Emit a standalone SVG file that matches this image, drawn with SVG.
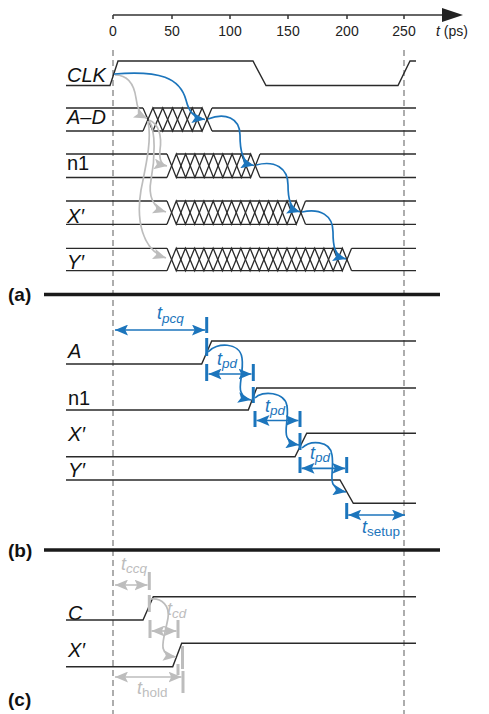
<svg xmlns="http://www.w3.org/2000/svg" width="489" height="714" viewBox="0 0 489 714">
<defs>
<style>
.sig{fill:none;stroke:#2a2a2a;stroke-width:1.4}
.bus{fill:none;stroke:#2a2a2a;stroke-width:1.3}
.lbl{font-family:"Liberation Sans",Arial,sans-serif;font-size:20px;font-style:italic;fill:#111}
.up{font-style:normal}
.tick{font-family:"Liberation Sans",Arial,sans-serif;font-size:14px;fill:#222;text-anchor:middle}
.part{font-family:"Liberation Sans",Arial,sans-serif;font-size:19px;font-weight:bold;fill:#111}
.sep{stroke:#1a1a1a;stroke-width:3.5}
.dash{stroke:#777;stroke-width:1.2;stroke-dasharray:6 4}
.blue{fill:none;stroke:#1c75bc;stroke-width:1.7}
.gray{fill:none;stroke:#bdbdbd;stroke-width:1.7}
.bbar{stroke:#1c75bc;stroke-width:3}
.gbar{stroke:#bdbdbd;stroke-width:3}
.bt{font-family:"Liberation Sans",Arial,sans-serif;font-size:18px;font-style:italic;fill:#1c75bc}
.gt{font-family:"Liberation Sans",Arial,sans-serif;font-size:18px;font-style:italic;fill:#bdbdbd}
.sub{font-size:13.5px}
</style>
<marker id="ab" viewBox="0 0 12 10" refX="12" refY="5" markerWidth="13" markerHeight="11" markerUnits="userSpaceOnUse" orient="auto-start-reverse"><path d="M0,0 L12,5 L0,10 L2.5,5 z" fill="#1c75bc"/></marker>
<marker id="ag" viewBox="0 0 12 10" refX="12" refY="5" markerWidth="13" markerHeight="11" markerUnits="userSpaceOnUse" orient="auto-start-reverse"><path d="M0,0 L12,5 L0,10 L2.5,5 z" fill="#bdbdbd"/></marker>
</defs>
<rect width="489" height="714" fill="#fff"/>

<g id="axis">
<line x1="113" y1="15" x2="446" y2="15" stroke="#333" stroke-width="1.5"/>
<polygon points="442,8 463,15 442,22" fill="#222"/>
<path d="M113,15V19 M172,15V19 M230,15V19 M288,15V19 M347,15V19 M404,15V19" stroke="#333" stroke-width="1.5"/>
<text class="tick" x="113" y="36">0</text>
<text class="tick" x="172" y="36">50</text>
<text class="tick" x="230" y="36">100</text>
<text class="tick" x="288" y="36">150</text>
<text class="tick" x="347" y="36">200</text>
<text class="tick" x="404" y="36">250</text>
<text class="tick" x="452" y="36" text-anchor="start"><tspan font-style="italic">t</tspan> (ps)</text>
</g>

<g id="guides">
<line class="dash" x1="113" y1="50" x2="113" y2="714"/>
<line class="dash" x1="404" y1="50" x2="404" y2="714"/>
</g>

<g id="sig-a-clk">
<text class="lbl" x="67" y="81.5">CLK</text>
<path class="sig" d="M66,85.5 H110 L118,61 H253 L266,85.5 H398 L410,61 H416"/>
</g>

<g id="sig-a-ad">
<text class="lbl" x="67" y="124">A–D</text>
<path class="bus" d="M66,108 H143 M152.86,108 H202.14 M212,108 H416 M66,131 H143 M152.86,131 H202.14 M212,131 H416"/>
<polyline class="bus" points="143,108 152.86,131 162.71,108 172.57,131 182.43,108 192.29,131 202.14,108 212,131"/>
<polyline class="bus" points="143,131 152.86,108 162.71,131 172.57,108 182.43,131 192.29,108 202.14,131 212,108"/>
</g>

<g id="sig-a-n1">
<text class="lbl up" x="67" y="170">n1</text>
<path class="bus" d="M66,154 H167 M176.3,154 H250.7 M260,154 H416 M66,177.5 H167 M176.3,177.5 H250.7 M260,177.5 H416"/>
<polyline class="bus" points="167,154 176.3,177.5 185.6,154 194.9,177.5 204.2,154 213.5,177.5 222.8,154 232.1,177.5 241.4,154 250.7,177.5 260,154"/>
<polyline class="bus" points="167,177.5 176.3,154 185.6,177.5 194.9,154 204.2,177.5 213.5,154 222.8,177.5 232.1,154 241.4,177.5 250.7,154 260,177.5"/>
</g>

<g id="sig-a-x">
<text class="lbl" x="67" y="222.5">X′</text>
<path class="bus" d="M66,201 H167 M176.23,201 H296.27 M305.5,201 H416 M66,224.3 H167 M176.23,224.3 H296.27 M305.5,224.3 H416"/>
<polyline class="bus" points="167,201 176.23,224.3 185.47,201 194.7,224.3 203.93,201 213.17,224.3 222.4,201 231.63,224.3 240.87,201 250.1,224.3 259.33,201 268.57,224.3 277.8,201 287.03,224.3 296.27,201 305.5,224.3"/>
<polyline class="bus" points="167,224.3 176.23,201 185.47,224.3 194.7,201 203.93,224.3 213.17,201 222.4,224.3 231.63,201 240.87,224.3 250.1,201 259.33,224.3 268.57,201 277.8,224.3 287.03,201 296.27,224.3 305.5,201"/>
</g>

<g id="sig-a-y">
<text class="lbl" x="67" y="269">Y′</text>
<path class="bus" d="M66,248.3 H167 M176.23,248.3 H342.37 M351.6,248.3 H416 M66,270.7 H167 M176.23,270.7 H342.37 M351.6,270.7 H416"/>
<polyline class="bus" points="167,248.3 176.23,270.7 185.46,248.3 194.69,270.7 203.92,248.3 213.15,270.7 222.38,248.3 231.61,270.7 240.84,248.3 250.07,270.7 259.3,248.3 268.53,270.7 277.76,248.3 286.99,270.7 296.22,248.3 305.45,270.7 314.68,248.3 323.91,270.7 333.14,248.3 342.37,270.7 351.6,248.3"/>
<polyline class="bus" points="167,270.7 176.23,248.3 185.46,270.7 194.69,248.3 203.92,270.7 213.15,248.3 222.38,270.7 231.61,248.3 240.84,270.7 250.07,248.3 259.3,270.7 268.53,248.3 277.76,270.7 286.99,248.3 296.22,270.7 305.45,248.3 314.68,270.7 323.91,248.3 333.14,270.7 342.37,248.3 351.6,270.7"/>
</g>

<g id="connectors-a">
<path class="gray" marker-end="url(#ag)" d="M115,75 C128,75 134,84 136,98 C137,108 140,115 147,118.5"/>
<path class="gray" marker-end="url(#ag)" d="M149,120 C159,124 162,136 160,150 C159,160 161,165 167,166"/>
<path class="gray" marker-end="url(#ag)" d="M149,121 C156,130 155,160 151,180 C148,196 153,208 166,212"/>
<path class="gray" marker-end="url(#ag)" d="M148,121 C152,140 146,165 141,190 C136,220 142,250 166,258"/>
<path class="blue" marker-end="url(#ab)" d="M114,74 C160,70 180,78 186,100 C189,112 194,118 205,119.5"/>
<path class="blue" marker-end="url(#ab)" d="M208,119 C225,112 240,118 240,135 C240,150 242,163 254,165.5"/>
<path class="blue" marker-end="url(#ab)" d="M256,165 C275,160 288,168 288,185 C288,198 290,209 300,212"/>
<path class="blue" marker-end="url(#ab)" d="M302,212 C320,208 333,215 333,232 C333,245 334,256 346,259"/>
</g>

<g id="sep-a">
<line class="sep" x1="44" y1="294.5" x2="440" y2="294.5"/>
<text class="part" x="8" y="301">(a)</text>
</g>

<g id="sig-b-a">
<text class="lbl" x="68" y="358">A</text>
<path class="sig" d="M66,364 H201.7 L211.7,341 H416"/>
</g>
<g id="sig-b-n1">
<text class="lbl up" x="68" y="405">n1</text>
<path class="sig" d="M66,410 H248.3 L256.7,388 H416"/>
</g>
<g id="sig-b-x">
<text class="lbl" x="68" y="441">X′</text>
<path class="sig" d="M66,456.7 H295 L306.7,433.3 H416"/>
</g>
<g id="sig-b-y">
<text class="lbl" x="68" y="477">Y′</text>
<path class="sig" d="M66,480 H340 L353.3,503.3 H416"/>
</g>

<g id="connectors-b">
<line class="blue" x1="115" y1="330" x2="205" y2="330" marker-start="url(#ab)" marker-end="url(#ab)"/>
<line class="bbar" x1="206.7" y1="317" x2="206.7" y2="333"/>
<text class="bt" x="157" y="319">t<tspan class="sub" dy="4">pcq</tspan></text>
<line class="bbar" x1="206.7" y1="338" x2="206.7" y2="356"/>
<path class="blue" marker-end="url(#ab)" d="M208,352 C216,342 240,342 242,358 C244,372 238,386 241,392 C243,397 246,399 251,400"/>
<line class="blue" x1="208.5" y1="374" x2="251.5" y2="374" marker-start="url(#ab)" marker-end="url(#ab)"/>
<line class="bbar" x1="206.7" y1="364" x2="206.7" y2="381"/>
<line class="bbar" x1="253.3" y1="364" x2="253.3" y2="381"/>
<text class="bt" x="217" y="365">t<tspan class="sub" dy="3">pd</tspan></text>
<line class="bbar" x1="253.3" y1="387" x2="253.3" y2="403"/>
<path class="blue" marker-end="url(#ab)" d="M255,398 C262,390 285,392 287,406 C289,418 284,430 287,437 C289,442 293,444 299,445"/>
<line class="blue" x1="256.5" y1="420.5" x2="298.5" y2="420.5" marker-start="url(#ab)" marker-end="url(#ab)"/>
<line class="bbar" x1="255" y1="411" x2="255" y2="427"/>
<line class="bbar" x1="300" y1="411" x2="300" y2="427"/>
<text class="bt" x="265" y="412">t<tspan class="sub" dy="3">pd</tspan></text>
<line class="bbar" x1="300" y1="433" x2="300" y2="450"/>
<path class="blue" marker-end="url(#ab)" d="M302,448 C310,440 330,440 332,455 C334,468 330,478 333,484 C336,489 340,491 346,492"/>
<line class="blue" x1="301.5" y1="468.3" x2="345.2" y2="468.3" marker-start="url(#ab)" marker-end="url(#ab)"/>
<line class="bbar" x1="300" y1="457" x2="300" y2="473"/>
<line class="bbar" x1="346.7" y1="457" x2="346.7" y2="473"/>
<text class="bt" x="310" y="459">t<tspan class="sub" dy="3">pd</tspan></text>
<line class="bbar" x1="346.7" y1="503" x2="346.7" y2="519"/>
<line class="blue" x1="348.2" y1="515" x2="405" y2="515" marker-start="url(#ab)" marker-end="url(#ab)"/>
<text class="bt" x="362" y="533">t<tspan class="sub up" dy="3">setup</tspan></text>
</g>

<g id="sep-b">
<line class="sep" x1="44" y1="550" x2="440" y2="550"/>
<text class="part" x="8" y="557">(b)</text>
</g>

<g id="sig-c-c">
<text class="lbl" x="68" y="620">C</text>
<path class="sig" d="M66,620 H143 L153.3,596.7 H416"/>
</g>
<g id="sig-c-x">
<text class="lbl" x="68" y="657">X′</text>
<path class="sig" d="M66,666.7 H172.7 L181.7,643.3 H416"/>
</g>

<g id="connectors-c">
<line class="gray" x1="115" y1="585" x2="147.5" y2="585" marker-start="url(#ag)" marker-end="url(#ag)"/>
<line class="gbar" x1="149.3" y1="572" x2="149.3" y2="590"/>
<text class="gt" x="121" y="570">t<tspan class="sub" dy="3">ccq</tspan></text>
<line class="gbar" x1="149.3" y1="595" x2="149.3" y2="612"/>
<path class="gray" marker-end="url(#ag)" d="M151,599 C162,598 170,606 168,618 C166,630 162,640 163,648 C164,653 168,656 176,657"/>
<line class="gray" x1="151.5" y1="631" x2="176.5" y2="631" marker-start="url(#ag)" marker-end="url(#ag)"/>
<line class="gbar" x1="150" y1="620" x2="150" y2="638"/>
<line class="gbar" x1="178" y1="620" x2="178" y2="638"/>
<text class="gt" x="167" y="615">t<tspan class="sub" dy="3">cd</tspan></text>
<line class="gbar" x1="182.5" y1="646" x2="182.5" y2="669"/>
<line class="gbar" x1="178" y1="664" x2="178" y2="675"/>
<line class="gray" x1="115" y1="677" x2="181.5" y2="677" marker-start="url(#ag)" marker-end="url(#ag)"/>
<line class="gbar" x1="183" y1="671" x2="183" y2="693"/>
<text class="gt" x="137" y="694">t<tspan class="sub up" dy="3">hold</tspan></text>
</g>

<g id="label-c">
<text class="part" x="8" y="706">(c)</text>
</g>
</svg>
